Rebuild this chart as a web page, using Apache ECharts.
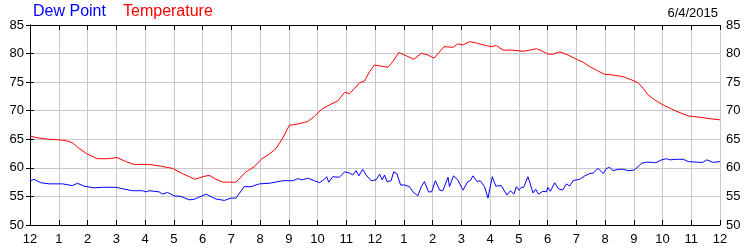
<!DOCTYPE html>
<html>
<head>
<meta charset="utf-8">
<script src="https://cdn.jsdelivr.net/npm/echarts@6/dist/echarts.min.js"></script>
<style>html,body{margin:0;padding:0;background:#fff}#c{width:750px;height:250px}</style>
</head>
<body>
<div id="c"></div>
<script>
var hourLabels = ['12','1','2','3','4','5','6','7','8','9','10','11','12','1','2','3','4','5','6','7','8','9','10','11','12'];
var yTicks = [50,55,60,65,70,75,80,85];

var tempHours = [0,0.2,0.66,1.01,1.22,1.47,1.71,2.0,2.34,2.69,3.03,3.33,3.62,4.14,4.55,4.96,5.3,5.74,6.0,6.23,6.47,6.7,7.16,7.51,7.8,8.04,8.32,8.56,8.79,9.02,9.25,9.66,9.89,10.13,10.41,10.7,10.94,11.11,11.29,11.46,11.63,11.81,11.98,12.22,12.45,12.62,12.83,13.09,13.35,13.61,13.84,14.05,14.4,14.71,14.88,15.06,15.29,15.52,15.87,16.05,16.22,16.45,16.8,17.15,17.38,17.61,17.79,18.02,18.19,18.43,18.71,19.01,19.24,19.47,19.7,19.97,20.28,20.63,20.92,21.15,21.33,21.5,21.73,22.02,22.32,22.61,22.89,23.3,23.65,24];
var tempValues = [65.6,65.3,65.0,64.9,64.8,64.4,63.4,62.4,61.6,61.6,61.8,61.1,60.6,60.6,60.3,59.9,59.0,58.0,58.45,58.7,58.0,57.5,57.5,59.3,60.2,61.5,62.4,63.4,65.2,67.45,67.6,68.1,69.0,70.2,71.0,71.7,73.2,73.0,73.9,74.9,75.2,76.8,78.0,77.8,77.6,78.6,80.2,79.6,79.0,80.05,79.75,79.2,81.2,81.1,81.7,81.5,82.1,81.85,81.4,81.2,81.4,80.6,80.6,80.4,80.6,80.85,80.5,79.9,79.9,80.3,79.75,79.0,78.5,77.7,77.1,76.4,76.25,75.95,75.4,74.9,73.9,72.75,71.9,71.0,70.3,69.65,69.1,68.85,68.6,68.4];

var dewHours = [0,0.14,0.37,0.66,1.13,1.47,1.65,1.88,2.23,2.52,2.99,3.21,3.56,3.91,4.03,4.14,4.49,4.61,4.78,5.02,5.25,5.54,5.71,6.12,6.47,6.76,6.99,7.16,7.45,7.69,7.98,8.32,8.79,9.14,9.31,9.48,9.66,9.89,10.07,10.24,10.32,10.39,10.53,10.76,10.94,11.11,11.23,11.34,11.44,11.57,11.69,11.87,12.04,12.16,12.25,12.33,12.42,12.56,12.65,12.76,12.89,13.03,13.2,13.32,13.49,13.61,13.72,13.86,13.97,14.1,14.25,14.36,14.54,14.59,14.73,14.88,15.06,15.23,15.31,15.41,15.55,15.66,15.81,15.93,15.99,16.08,16.2,16.39,16.59,16.71,16.83,16.92,17.01,17.09,17.17,17.32,17.5,17.59,17.69,17.84,17.96,18.01,18.1,18.25,18.37,18.52,18.66,18.77,18.89,19.01,19.12,19.3,19.47,19.59,19.76,19.94,20.05,20.16,20.28,20.45,20.63,20.81,21.0,21.15,21.27,21.45,21.68,21.77,21.97,22.14,22.26,22.49,22.72,22.9,23.19,23.4,23.54,23.77,24];
var dewValues = [57.7,58.0,57.4,57.2,57.2,56.9,57.3,56.8,56.5,56.6,56.6,56.35,56.0,56.0,55.8,56.0,55.8,55.4,55.7,55.1,55.0,54.4,54.5,55.4,54.55,54.3,54.7,54.7,56.7,56.7,57.2,57.3,57.75,57.75,58.1,57.9,58.2,57.75,57.4,58.0,58.45,57.5,58.45,58.35,59.3,59.1,58.75,59.5,58.6,59.75,58.75,57.75,57.9,58.9,57.9,58.75,57.6,57.75,59.3,59.0,57.0,57.0,56.7,55.8,55.1,56.7,57.6,55.8,55.8,57.75,56.1,56.0,58.35,56.7,58.6,57.9,56.1,57.6,57.75,58.6,57.6,57.75,56.7,54.7,54.65,58.45,56.8,56.9,55.25,56.0,55.4,56.7,56.1,56.6,56.6,58.45,55.6,56.25,55.4,55.9,55.8,56.6,55.9,57.4,56.4,56.1,57.2,56.8,57.75,57.9,58.0,58.6,59.0,59.1,59.9,59.0,59.9,60.1,59.5,59.75,59.75,59.5,59.6,60.2,60.8,61.0,60.95,60.9,61.4,61.6,61.4,61.5,61.5,61.1,61.0,60.95,61.4,60.95,61.1];

var legendNames = ['Dew Point','Temperature'];
var dateText = '6/4/2015';

function pairs(xs, ys){ return xs.map(function(x,i){ return [x, ys[i]]; }); }

var chart = echarts.init(document.getElementById('c'), null, {renderer:'canvas'});
var font = 'Liberation Sans, Arial, sans-serif';
var yMin = yTicks[0], yMax = yTicks[yTicks.length-1];
function yAx(pos){
  return {
    type:'value', position:pos, min:yMin, max:yMax, interval:5,
    axisLine:{show:true, lineStyle:{color:'#000', width:1}},
    axisTick:{show:true, inside:true, length:4, lineStyle:{color:'#000'}},
    axisLabel:{show:true, color:'#000', fontSize:13, fontFamily:font, margin:6},
    splitLine:{show: pos==='left', lineStyle:{color:'#c8c8c8', width:1}}
  };
}
function xAx(pos){
  return {
    type:'value', position:pos, min:0, max:24, interval:1,
    axisLine:{show:true, onZero:false, lineStyle:{color:'#000', width:1}},
    axisTick:{show:true, inside:true, length:5, lineStyle:{color:'#000'}},
    axisLabel:{show: pos==='bottom', color:'#000', fontSize:13, fontFamily:font, margin:8,
      formatter:function(v){ return hourLabels[Math.round(v)]; }},
    splitLine:{show: pos==='bottom', lineStyle:{color:'#c8c8c8', width:1}}
  };
}
chart.setOption({
  animation:false,
  backgroundColor:'#fff',
  title:[
    {text:legendNames[0], left:33, top:4, textStyle:{color:'#0000ff', fontSize:16, fontWeight:'normal', fontFamily:font}, padding:0},
    {text:legendNames[1], left:123, top:4, textStyle:{color:'#ff0000', fontSize:16, fontWeight:'normal', fontFamily:font}, padding:0},
    {text:dateText, right:32, top:7, textStyle:{color:'#000', fontSize:13, fontWeight:'normal', fontFamily:font}, padding:0}
  ],
  grid:{left:30, right:30, top:25, bottom:25, containLabel:false},
  xAxis:[xAx('bottom'), xAx('top')],
  yAxis:[yAx('left'), yAx('right')],
  series:[
    {name:legendNames[1], type:'line', data:pairs(tempHours,tempValues), showSymbol:false, symbol:'none',
      lineStyle:{color:'#ff0000', width:1}, itemStyle:{color:'#ff0000'}, z:3},
    {name:legendNames[0], type:'line', data:pairs(dewHours,dewValues), showSymbol:false, symbol:'none',
      lineStyle:{color:'#0000ff', width:1}, itemStyle:{color:'#0000ff'}, z:4}
  ]
});
</script>
</body>
</html>
